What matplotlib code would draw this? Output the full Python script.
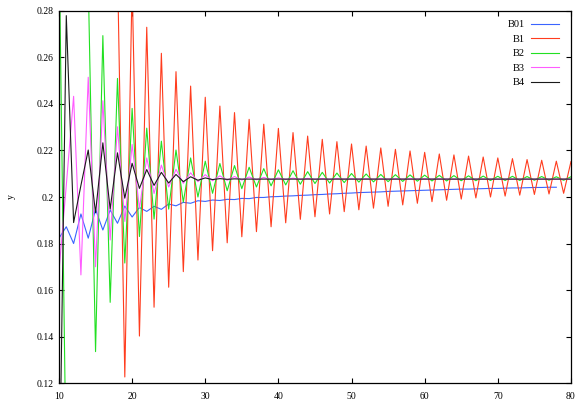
import numpy as np
import matplotlib
matplotlib.use("Agg")
import matplotlib.pyplot as plt

plt.rcParams['font.family'] = ['Liberation Serif', 'DejaVu Serif']

# x positions of each series
x_b01 = list(range(10, 79))
x_b1 = list(range(18, 81))
x_b2 = list(range(10, 81))
x_b3 = list(range(10, 81))
x_b4 = list(range(10, 81))

b01 = [0.1823, 0.1872, 0.1800, 0.1927, 0.1823, 0.1947, 0.1858, 0.1944, 0.1887, 0.1961,
       0.1914, 0.1955, 0.1938, 0.1960, 0.1947, 0.1970, 0.1962, 0.1977, 0.1973, 0.1984,
       0.1981, 0.1987, 0.1985, 0.1990, 0.1989, 0.1994, 0.1993, 0.1998, 0.1998, 0.2001,
       0.2002, 0.2004, 0.2005, 0.2007, 0.2008, 0.2010, 0.2011, 0.2013, 0.2014, 0.2016,
       0.2017, 0.2019, 0.2020, 0.2021, 0.2022, 0.2024, 0.2025, 0.2026, 0.2027, 0.2028,
       0.2029, 0.2030, 0.2031, 0.2032, 0.2033, 0.2034, 0.2034, 0.2035, 0.2036, 0.2037,
       0.2037, 0.2038, 0.2039, 0.2039, 0.2040, 0.2041, 0.2041, 0.2042, 0.2042]

b1 = [0.2995, 0.1226, 0.2920, 0.1402, 0.2730, 0.1526, 0.2618, 0.1612, 0.2539, 0.1679,
      0.2477, 0.1729, 0.2429, 0.1769, 0.2391, 0.1803, 0.2363, 0.1829, 0.2334, 0.1851,
      0.2313, 0.1872, 0.2295, 0.1889, 0.2277, 0.1904, 0.2262, 0.1915, 0.2248, 0.1927,
      0.2238, 0.1937, 0.2228, 0.1945, 0.2219, 0.1952, 0.2211, 0.1960, 0.2205, 0.1966,
      0.2198, 0.1973, 0.2192, 0.1980, 0.2185, 0.1986, 0.2181, 0.1991, 0.2176, 0.1996,
      0.2172, 0.2000, 0.2168, 0.2004, 0.2165, 0.2008, 0.2161, 0.2011, 0.2158, 0.2013,
      0.2154, 0.2016, 0.2152]

b2 = [0.3130, 0.0780, np.nan, np.nan, 0.2930, 0.1335, 0.2694, 0.1547, 0.2510, 0.1716,
      0.2381, 0.1830, 0.2296, 0.1905, 0.2240, 0.1948, 0.2202, 0.1978, 0.2168, 0.2000,
      0.2154, 0.2016, 0.2144, 0.2027, 0.2135, 0.2036, 0.2128, 0.2043, 0.2122, 0.2048,
      0.2117, 0.2052, 0.2113, 0.2055, 0.2109, 0.2058, 0.2106, 0.2060, 0.2103, 0.2062,
      0.2101, 0.2064, 0.2099, 0.2065, 0.2097, 0.2066, 0.2096, 0.2067, 0.2095, 0.2068,
      0.2094, 0.2069, 0.2093, 0.2069, 0.2092, 0.2070, 0.2091, 0.2070, 0.2090, 0.2071,
      0.2089, 0.2071, 0.2089, 0.2071, 0.2088, 0.2072, 0.2088, 0.2072, 0.2087, 0.2072,
      0.2087]

b3 = [0.1680, 0.2050, 0.2433, 0.1665, 0.2515, 0.1700, 0.2414, 0.1815, 0.2302, 0.1895,
      0.2226, 0.1951, 0.2168, 0.2015, 0.2137, 0.2043, 0.2119, 0.2059, 0.2104, 0.2066,
      0.2096, 0.2070, 0.2091, 0.2072, 0.2088, 0.2073, 0.2086, 0.2074, 0.2084, 0.2075,
      0.2082, 0.2075, 0.2081, 0.2076, 0.2080, 0.2076, 0.2079, 0.2076, 0.2079, 0.2077,
      0.2078, 0.2077, 0.2078, 0.2077, 0.2078, 0.2077, 0.2078, 0.2077, 0.2078, 0.2077,
      0.2078, 0.2077, 0.2078, 0.2077, 0.2077, 0.2077, 0.2077, 0.2077, 0.2077, 0.2077,
      0.2077, 0.2077, 0.2077, 0.2077, 0.2077, 0.2077, 0.2077, 0.2077, 0.2077, 0.2077,
      0.2077]

b4 = [0.0600, 0.2780, 0.1890, 0.2050, 0.2202, 0.1932, 0.2233, 0.1948, 0.2190, 0.1995,
      0.2145, 0.2037, 0.2118, 0.2050, 0.2106, 0.2060, 0.2097, 0.2066, 0.2087, 0.2072,
      0.2082, 0.2075, 0.2079, 0.2076, 0.2078, 0.2077, 0.2077, 0.2077, 0.2077, 0.2077,
      0.2077, 0.2077, 0.2077, 0.2077, 0.2077, 0.2077, 0.2077, 0.2077, 0.2077, 0.2077,
      0.2077, 0.2077, 0.2077, 0.2077, 0.2077, 0.2077, 0.2077, 0.2077, 0.2077, 0.2077,
      0.2077, 0.2077, 0.2077, 0.2077, 0.2077, 0.2077, 0.2077, 0.2077, 0.2077, 0.2077,
      0.2077, 0.2077, 0.2077, 0.2077, 0.2077, 0.2077, 0.2077, 0.2077, 0.2077, 0.2077,
      0.2077]

x_ticks = [10, 20, 30, 40, 50, 60, 70, 80]
y_ticks = [0.12, 0.14, 0.16, 0.18, 0.2, 0.22, 0.24, 0.26, 0.28]
y_tick_labels = ['0.12', '0.14', '0.16', '0.18', '0.2', '0.22', '0.24', '0.26', '0.28']

fig = plt.figure(figsize=(5.88, 4.13), dpi=100)
ax = fig.add_axes([0.1003, 0.0726, 0.8707, 0.9008])

lw = 0.8
ax.plot(x_b01, b01, color='#3a64ff', lw=lw, label='B01')
ax.plot(x_b1, b1, color='#ff3c1e', lw=lw, label='B1')
ax.plot(x_b2, b2, color='#22e022', lw=lw, label='B2')
ax.plot(x_b3, b3, color='#ff5cff', lw=lw, label='B3')
ax.plot(x_b4, b4, color='#1a1a1a', lw=lw, label='B4')

ax.set_xlim(10, 80)
ax.set_ylim(0.12, 0.28)
ax.set_xticks(x_ticks)
ax.set_yticks(y_ticks)
ax.set_yticklabels(y_tick_labels)
ax.tick_params(direction='in', length=3.6, width=0.8, top=True, right=True,
               labelsize=7)
ax.tick_params(axis='x', pad=6.5)
ax.tick_params(axis='y', pad=4)
for s in ax.spines.values():
    s.set_linewidth(0.9)

ax.set_ylabel('y', fontsize=7)
ax.yaxis.set_label_coords(-0.085, 0.5)

leg = ax.legend(loc='upper right', bbox_to_anchor=(0.9766, 0.976), frameon=False,
                markerfirst=False, fontsize=7.5, handlelength=2.7,
                handletextpad=0.6, labelspacing=0.5, borderpad=0,
                borderaxespad=0)

fig.savefig('out.png', dpi=100)
